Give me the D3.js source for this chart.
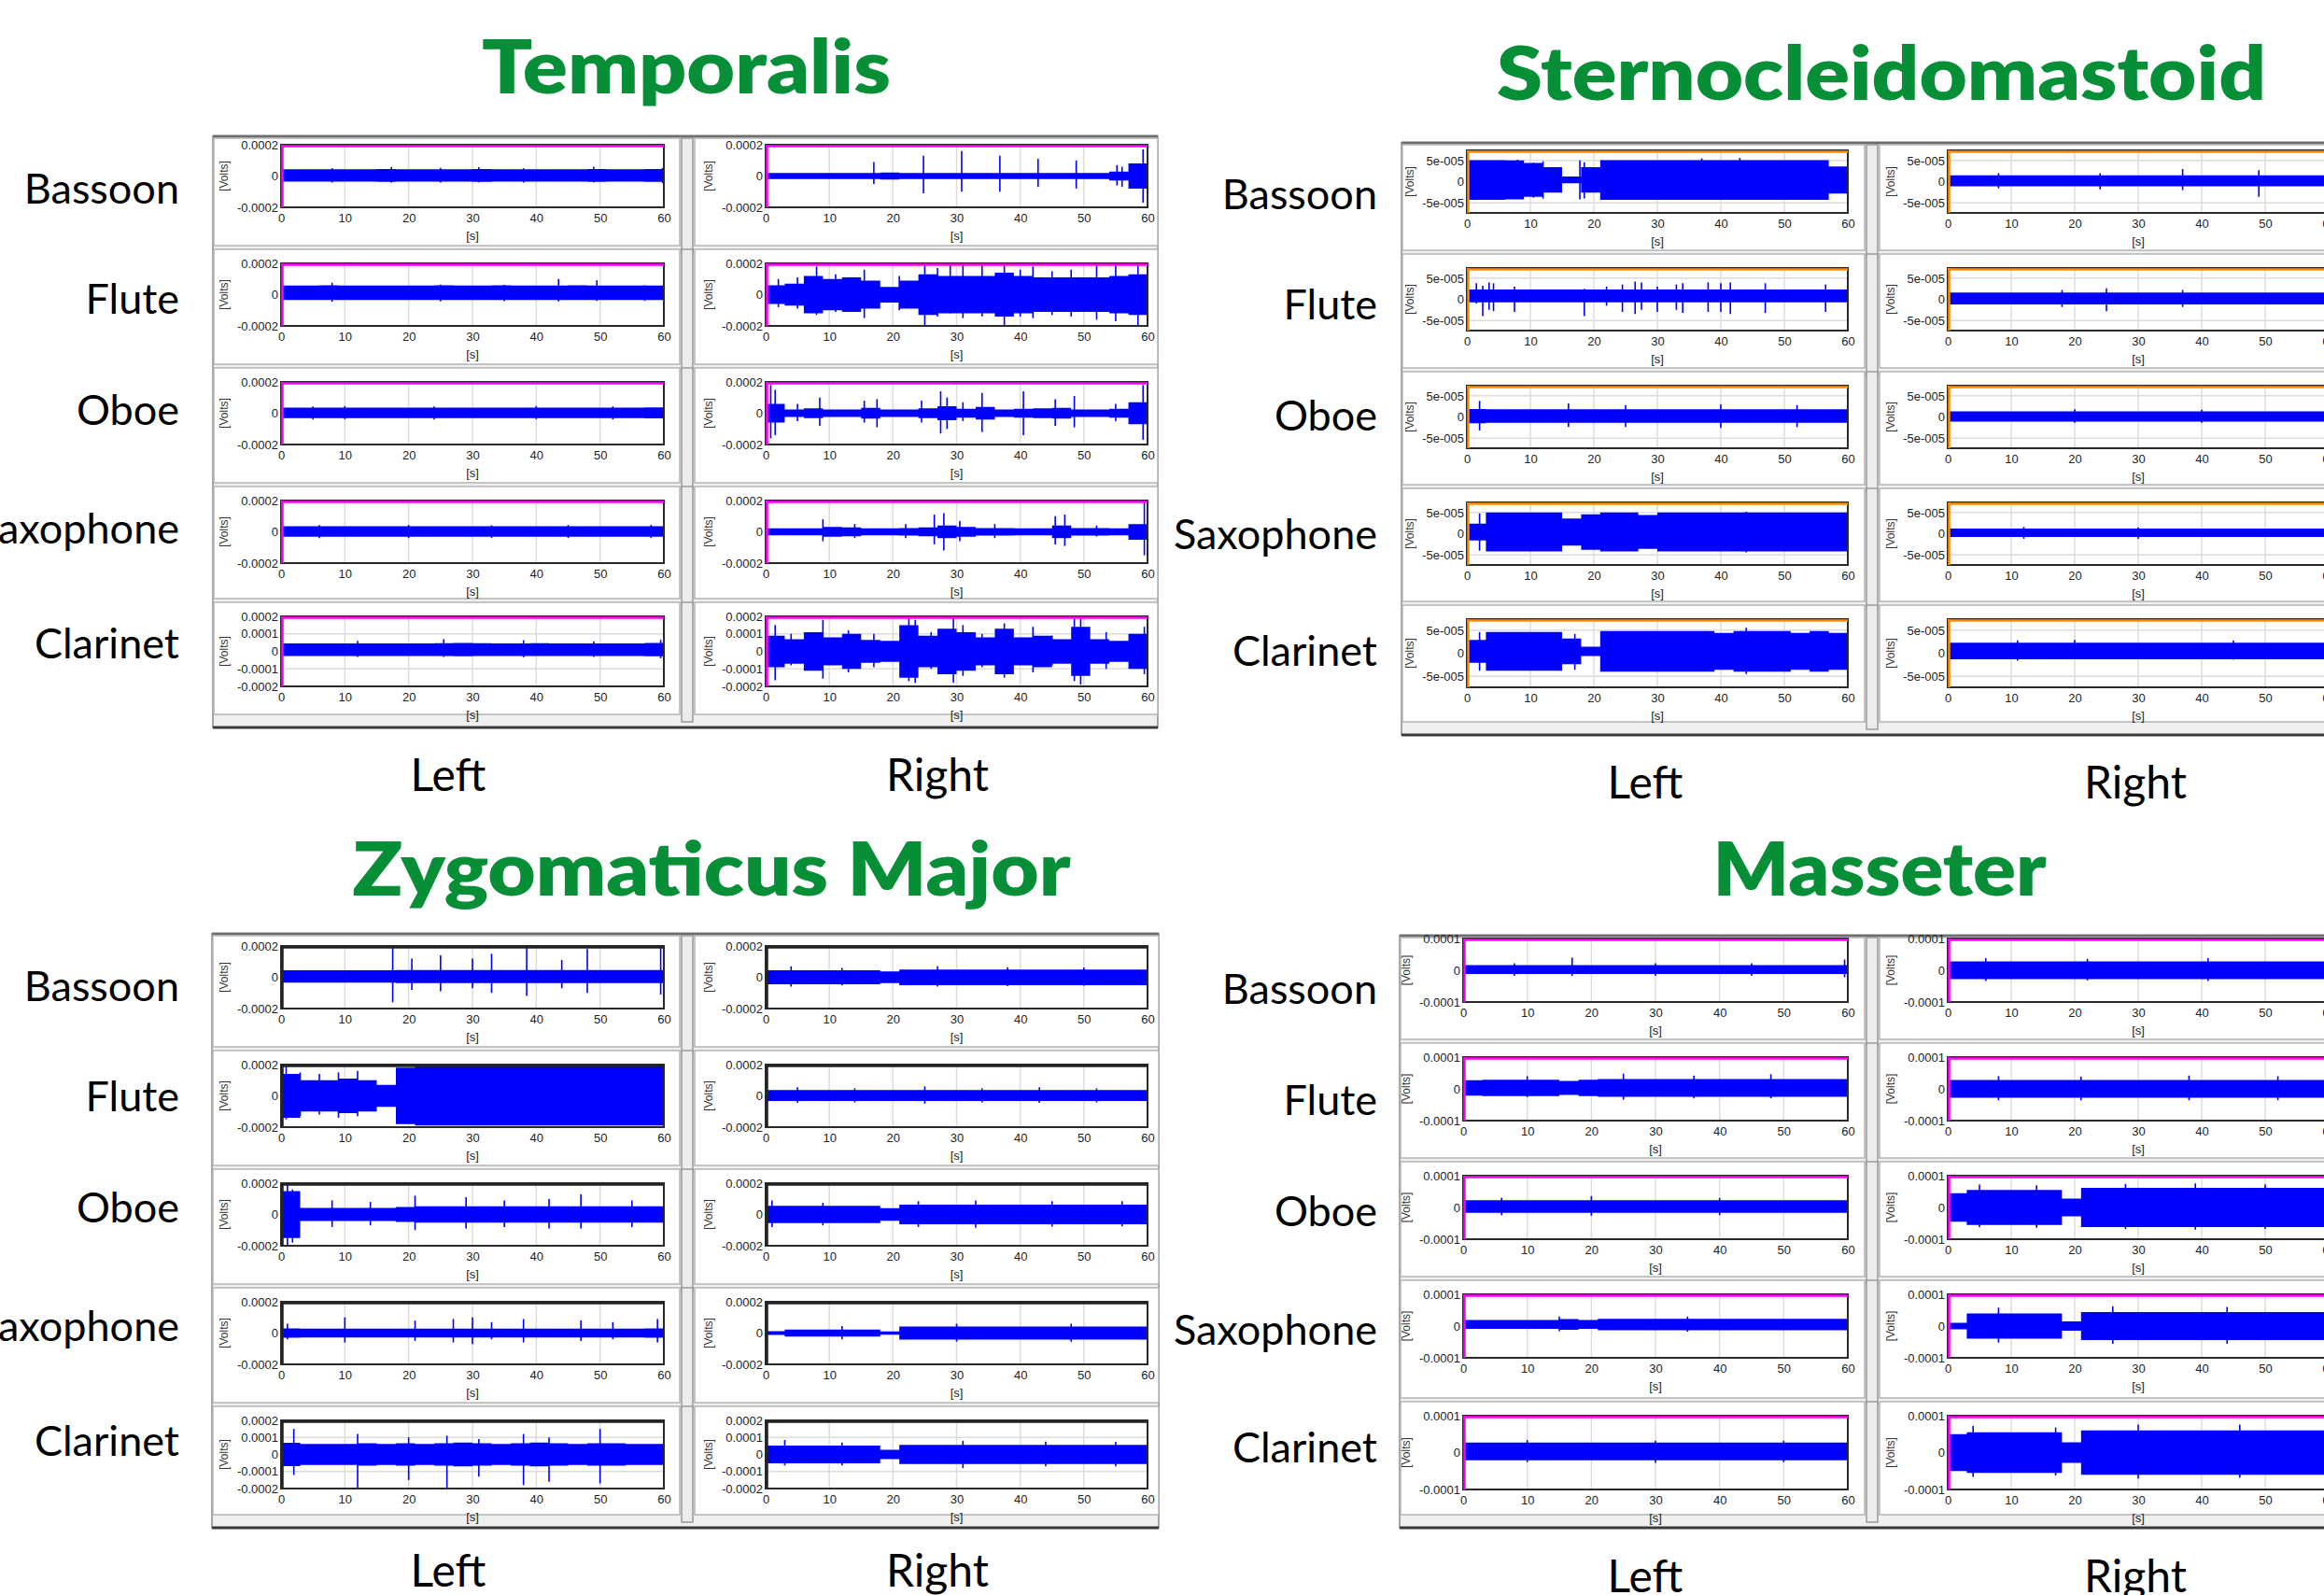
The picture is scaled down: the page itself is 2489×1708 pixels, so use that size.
<!DOCTYPE html>
<html>
<head>
<meta charset="utf-8">
<script src="https://cdn.jsdelivr.net/npm/d3@7"></script>
<style>
  body { margin: 0; background: #fff; }
</style>
</head>
<body>
<div id="chart"></div>
<script>
// ---- data (amplitudes in microvolts, one envelope value per 3 s bin, 0..60 s) ----
const instruments = ["Bassoon", "Flute", "Oboe", "Saxophone", "Clarinet"];
const sides = ["Left", "Right"];
const xTicks = [0, 10, 20, 30, 40, 50, 60];
const binSeconds = 3;

const ticks200 = [-0.0002, 0, 0.0002];
const ticks200fine = [-0.0002, -0.0001, 0, 0.0001, 0.0002];
const ticks50 = [-0.00005, 0, 0.00005];
const ticks100 = [-0.0001, 0, 0.0001];
const tickText = {"0.0002": "0.0002", "0.0001": "0.0001", "0": "0", "-0.0001": "-0.0001", "-0.0002": "-0.0002",
                  "0.00005": "5e-005", "-0.00005": "-5e-005"};

// Temporalis
const temporalisLeftEnv = [
  [40,40,40,40,40,41,40,40,40,40,41,40,40,40,40,40,41,40,40,41],
  [46,46,47,46,46,46,46,46,47,46,46,47,46,46,46,47,46,46,46,46],
  [34,34,34,34,34,34,34,34,34,34,34,34,34,34,34,34,34,34,34,35],
  [34,34,34,34,34,34,34,34,34,34,34,34,34,34,34,34,34,34,34,34],
  [36,36,36,36,36,36,36,36,37,38,37,36,36,37,36,36,36,36,36,38]
];
const temporalisLeftOffset = [4, 12, 2, 2, 10];
const temporalisLeftSpikes = [
  [[8,50,-42],[17.3,58,-42],[25,52,-42],[31,56,-40],[38,50,-42],[49,60,-40],[59.8,52,-46]],
  [[8,76,-46],[25,64,-44],[35,62,-42],[43.5,100,-44],[49.5,92,-40],[57,60,-40]],
  [[5,44,-40],[10,46,-38],[24,44,-40],[40,46,-38],[52,44,-40]],
  [[6,44,-40],[20,44,-40],[33,42,-40],[45,44,-40],[58,44,-40]],
  [[12,60,-32],[25.5,70,-32],[38,64,-34],[49,58,-32],[59.5,66,-40]]
];
const temporalisRightEnv = [
  [20,20,20,20,20,20,22,20,20,20,20,20,20,20,20,20,20,20,28,80],
  [60,70,120,100,110,90,50,90,130,120,120,120,140,120,110,110,110,110,120,130],
  [60,24,32,24,24,35,24,24,32,45,28,40,24,28,32,35,24,24,28,70],
  [22,22,22,32,28,22,22,24,28,40,32,24,24,22,22,40,24,24,22,50],
  [90,70,110,80,100,65,60,150,90,130,110,80,130,80,90,70,140,70,60,100]
];
const temporalisRightOffset = [0, 0, 0, 0, 0];
const temporalisRightSpikes = [
  [[17,90,-50],[24.8,130,-110],[30.8,160,-100],[36.8,130,-100],[42.8,110,-70],[48.8,100,-80],[55.2,70,-60],[56,60,-70],[59.3,170,-170]],
  [[2,100,-80],[5,110,-90],[8,180,-130],[11,130,-110],[15.5,160,-150],[21,120,-100],[25,200,-200],[27,170,-140],[29,200,-120],[31,200,-150],[34,190,-140],[37.5,200,-200],[40,160,-140],[42,180,-150],[45,150,-130],[48,160,-140],[52,190,-160],[55,190,-170],[58.5,190,-200]],
  [[0.8,180,-160],[1.5,150,-140],[5,60,-50],[8.5,100,-80],[15.5,80,-60],[17.5,90,-90],[24.5,80,-60],[27.5,140,-130],[28.5,100,-100],[31,70,-50],[34,130,-120],[40.5,140,-140],[45.5,90,-80],[48.5,110,-90],[55,60,-50],[59.3,180,-170]],
  [[9,80,-60],[14,50,-40],[22,50,-40],[26.5,110,-80],[28,120,-120],[30.5,70,-60],[36,50,-40],[45.5,100,-80],[47,110,-90],[52,40,-30],[59.5,200,-150]],
  [[1.5,150,-165],[4,100,-80],[9,180,-156],[13,120,-120],[17,100,-90],[22.5,190,-170],[23.5,180,-180],[26,110,-100],[29.5,200,-180],[31,150,-140],[34,100,-90],[37.5,160,-150],[42,140,-120],[45,90,-80],[48.5,200,-170],[49.5,200,-190],[53.5,110,-100],[59.5,140,-130]]
];

// Sternocleidomastoid
const sternoLeftEnv = [
  [47,47,46,40,30,8,30,47,47,47,47,47,47,47,47,47,47,47,47,32],
  [15,15,15,15,15,15,15,15,15,15,15,15,15,15,15,15,15,15,15,15],
  [17,16,16,16,16,16,16,16,16,16,16,16,16,16,16,16,16,16,16,16],
  [20,46,46,46,46,32,42,46,46,40,46,46,46,46,46,46,46,46,46,46],
  [25,42,42,42,42,28,10,44,44,44,44,44,44,40,44,44,44,40,44,40]
];
const sternoLeftOffset = [4, 8, 2, 4, 4];
const sternoLeftSpikes = [
  [[8,52,-40],[10.5,45,-38],[12,48,-40],[17.8,50,-42],[18.5,46,-40],[37,55,-40],[43,56,-42]],
  [[1.5,38,-10],[2.5,32,-40],[3.5,40,-25],[4.2,38,-28],[7.5,30,-30],[18.5,25,-40],[22,30,-15],[24.5,35,-30],[26.5,42,-35],[27.5,40,-25],[30,30,-30],[33,35,-25],[34,38,-32],[38,40,-30],[40,38,-30],[41.5,40,-35],[47,38,-32],[56.5,35,-30]],
  [[2,38,-32],[16,32,-24],[25,28,-24],[40,30,-26],[52,28,-24]],
  [[2,48,-40],[44,52,-44]],
  [[2,46,-38],[17,42,-36],[44,55,-45]]
];
const sternoRightEnv = [
  [13,13,13,13,13,13,13,13,13,13,13,13,13,13,13,13,13,13,13,13],
  [14,14,14,14,14,14,14,14,14,14,14,14,14,14,14,14,14,14,14,14],
  [12,12,12,12,12,12,12,12,12,12,12,12,12,12,12,12,12,12,12,12],
  [10,10,10,10,10,10,10,10,10,10,10,10,10,10,10,10,10,10,10,10],
  [18,18,18,18,18,18,18,18,18,18,18,18,18,18,18,18,18,18,18,18]
];
const sternoRightOffset = [2, 2, 1, 2, 5];
const sternoRightSpikes = [
  [[8,20,-16],[24,20,-18],[37,30,-20],[49,27,-36]],
  [[18,22,-18],[25,26,-28],[37,22,-18]],
  [[20,18,-14],[40,17,-14]],
  [[12,16,-12],[30,15,-12]],
  [[11,28,-16],[20,29,-12],[45,28,-14]]
];

// Zygomaticus Major
const zygoLeftEnv = [
  [40,40,40,40,40,40,42,42,42,42,42,42,42,42,42,42,42,42,42,42],
  [140,100,100,110,100,70,180,190,190,190,190,190,190,190,190,190,190,190,190,190],
  [150,42,42,42,42,42,48,52,52,52,52,52,52,52,52,52,52,52,52,52],
  [30,28,28,28,28,28,28,28,28,28,28,28,28,28,28,28,28,28,28,30],
  [68,62,62,62,66,62,66,62,66,70,66,62,66,70,66,62,66,66,62,62]
];
const zygoLeftOffset = [5, 0, 0, 0, 0];
const zygoLeftSpikes = [
  [[17.5,200,-160],[20.5,120,-80],[25,140,-90],[30,120,-70],[33,150,-100],[38.5,200,-120],[44,110,-70],[48,180,-100],[59.5,190,-110]],
  [[0.8,200,-150],[3,150,-130],[6,140,-120],[9,150,-140],[12,160,-130]],
  [[1,200,-200],[1.8,160,-180],[8,90,-80],[14,80,-70],[21,120,-100],[29,110,-90],[35,90,-80],[42,100,-90],[47,130,-90],[55,90,-80]],
  [[1,60,-40],[10,100,-60],[21,80,-50],[27,90,-60],[30,100,-70],[33,70,-40],[38,90,-60],[47,80,-50],[52,70,-40],[59,90,-60]],
  [[2,150,-120],[12,120,-200],[20,100,-150],[26,110,-200],[31,90,-130],[38,120,-180],[42,100,-160],[50,150,-170]]
];
const zygoRightEnv = [
  [45,45,45,45,45,45,38,50,50,50,50,50,50,50,50,50,50,50,50,50],
  [35,35,35,35,35,35,35,35,35,35,35,35,35,35,35,35,35,35,35,35],
  [55,55,55,55,55,55,40,62,62,62,62,62,62,62,62,62,62,62,62,62],
  [12,22,22,22,22,22,10,42,42,42,42,42,42,42,42,42,42,42,42,42],
  [52,52,52,52,52,52,28,56,56,56,56,56,56,56,56,56,56,56,56,56]
];
const zygoRightOffset = [0, 2, 0, 0, 0];
const zygoRightSpikes = [
  [[4,70,-60],[12,60,-52],[27,70,-60],[38,64,-56],[50,62,-54]],
  [[5,55,-45],[14,48,-42],[25,60,-50],[34,48,-42],[43,55,-45],[52,48,-42]],
  [[1,90,-80],[9,75,-70],[24,85,-80],[33,90,-85],[45,85,-78],[56,85,-76]],
  [[12,45,-40],[30,60,-55],[48,60,-55]],
  [[3,85,-65],[12,70,-65],[31,80,-80],[44,76,-70],[55,74,-70]]
];

// Masseter
const masseterLeftEnv = [
  [14,14,14,14,14,14,14,14,14,14,14,14,14,14,14,14,14,14,14,14],
  [24,26,26,26,26,22,26,28,28,28,28,28,28,28,28,28,28,28,28,28],
  [20,20,20,20,20,20,20,20,20,20,20,20,20,20,20,20,20,20,20,20],
  [14,14,14,14,14,17,14,18,18,18,18,18,18,18,18,18,18,18,18,18],
  [24,24,24,24,24,24,24,24,24,24,24,24,24,24,24,24,24,24,24,24]
];
const masseterLeftOffset = [2, 3, 3, 5, 3];
const masseterLeftSpikes = [
  [[8,22,-18],[17,40,-18],[30,22,-18],[45,22,-18],[59.5,34,-22]],
  [[10,40,-26],[25,48,-34],[36,42,-30],[48,46,-30]],
  [[6,30,-24],[20,36,-26],[40,30,-24]],
  [[15,30,-16],[35,30,-18]],
  [[10,34,-26],[30,32,-28],[50,32,-26]]
];
const masseterRightEnv = [
  [28,28,28,28,28,28,28,28,28,28,28,28,28,28,28,28,28,28,28,28],
  [28,28,28,28,28,28,28,28,28,28,28,28,28,28,28,28,28,28,28,28],
  [45,55,55,55,55,55,28,62,62,62,62,62,62,62,62,62,62,62,62,62],
  [10,40,40,40,40,40,15,44,44,44,44,44,44,44,44,44,44,44,44,44],
  [50,55,55,55,55,55,28,60,60,60,60,60,60,60,60,60,60,60,60,60]
];
const masseterRightOffset = [0, 0, 0, 0, 0];
const masseterRightSpikes = [
  [[6,38,-34],[22,36,-32],[41,38,-34]],
  [[8,40,-36],[21,38,-36],[38,42,-36],[52,40,-36]],
  [[5,72,-62],[14,70,-64],[28,74,-68],[39,76,-70],[50,72,-68]],
  [[8,58,-52],[26,62,-56],[44,60,-56]],
  [[4,72,-66],[17,68,-62],[30,76,-70],[46,76,-68]]
];

// ---- layout ----
const W = 2489, H = 1708;
const GREEN = "#078f38";
const BLUE = "#0000ff";
const TICK_FONT = "'Liberation Sans', Arial, sans-serif";
const LABEL_FONT = "Lato, 'Open Sans', sans-serif";

const panels = [
  {name: "Temporalis", titleX: 735, titleY: 100, titleW: 438,
   frame: [228, 146, 1240, 779], plotL: [301, 711], plotR: [820, 1229], sep: [728, 744],
   tops: [155, 282, 409, 536, 660], heights: [67, 67, 67, 67, 75],
   domain: 0.0002, ticks: [ticks200, ticks200, ticks200, ticks200, ticks200fine], edge: "#ff00ff",
   labelX: 192, labelY: [218, 336, 455, 582, 705], sideY: 847, sideX: [480, 1004],
   env: [temporalisLeftEnv, temporalisRightEnv], off: [temporalisLeftOffset, temporalisRightOffset],
   spikes: [temporalisLeftSpikes, temporalisRightSpikes]},
  {name: "Sternocleidomastoid", titleX: 2015, titleY: 107, titleW: 824,
   frame: [1501, 153, 2520, 787], plotL: [1571, 1979], plotR: [2086, 2494], sep: [1997, 2013],
   tops: [161, 287, 413, 538, 663], heights: [67, 67, 67, 67, 73],
   domain: 0.000074, ticks: [ticks50, ticks50, ticks50, ticks50, ticks50], edge: "#ff8c00",
   labelX: 1475, labelY: [224, 342, 461, 588, 713], sideY: 855, sideX: [1762, 2287],
   env: [sternoLeftEnv, sternoRightEnv], off: [sternoLeftOffset, sternoRightOffset],
   spikes: [sternoLeftSpikes, sternoRightSpikes]},
  {name: "Zygomaticus Major", titleX: 762, titleY: 959, titleW: 769,
   frame: [227, 1000, 1241, 1636], plotL: [301, 711], plotR: [820, 1229], sep: [728, 744],
   tops: [1013, 1140, 1267, 1394, 1521], heights: [67, 67, 67, 67, 73],
   domain: 0.0002, ticks: [ticks200, ticks200, ticks200, ticks200, ticks200fine], edge: "#222",
   labelX: 192, labelY: [1072, 1190, 1309, 1436, 1559], sideY: 1699, sideX: [480, 1004],
   env: [zygoLeftEnv, zygoRightEnv], off: [zygoLeftOffset, zygoRightOffset],
   spikes: [zygoLeftSpikes, zygoRightSpikes]},
  {name: "Masseter", titleX: 2013, titleY: 959, titleW: 357,
   frame: [1499, 1002, 2520, 1636], plotL: [1567, 1979], plotR: [2086, 2494], sep: [1997, 2013],
   tops: [1005, 1132, 1259, 1386, 1516], heights: [68, 68, 68, 68, 79],
   domain: 0.0001, ticks: [ticks100, ticks100, ticks100, ticks100, ticks100], edge: "#ff00ff",
   labelX: 1475, labelY: [1075, 1194, 1313, 1440, 1566], sideY: 1705, sideX: [1762, 2287],
   env: [masseterLeftEnv, masseterRightEnv], off: [masseterLeftOffset, masseterRightOffset],
   spikes: [masseterLeftSpikes, masseterRightSpikes]}
];

const svg = d3.select("#chart").append("svg")
  .attr("width", W).attr("height", H)
  .style("display", "block");

const defs = svg.append("defs");
let clipId = 0;

function drawPlot(g, p, side, r) {
  const [px0, px1] = side === 0 ? p.plotL : p.plotR;
  const top = p.tops[r], h = p.heights[r];
  const x = d3.scaleLinear().domain([0, 60]).range([px0, px1]);
  const y = d3.scaleLinear().domain([-p.domain, p.domain]).range([top + h, top]);

  g.append("rect").attr("x", px0).attr("y", top).attr("width", px1 - px0).attr("height", h).attr("fill", "#fff");

  // grid
  g.append("g").selectAll("line").data(xTicks.slice(1, -1)).join("line")
    .attr("x1", d => x(d)).attr("x2", d => x(d)).attr("y1", top).attr("y2", top + h)
    .attr("stroke", "#dcdcdc").attr("stroke-width", 1.5);
  g.append("g").selectAll("line").data(p.ticks[r]).join("line")
    .attr("x1", px0).attr("x2", px1).attr("y1", d => y(d)).attr("y2", d => y(d))
    .attr("stroke", "#dcdcdc").attr("stroke-width", 1.5);

  // signal envelope + spikes
  const id = "clip" + (clipId++);
  defs.append("clipPath").attr("id", id).append("rect")
    .attr("x", px0).attr("y", top).attr("width", px1 - px0).attr("height", h);
  const env = p.env[side][r], off = p.off[side][r];
  const pts = env.map((v, i) => ({t: i * binSeconds + binSeconds / 2, v}));
  pts.unshift({t: 0.3, v: env[0]});
  pts.push({t: 60, v: env[env.length - 1]});
  const area = d3.area()
    .x(d => x(d.t))
    .y0(d => y((off - d.v) * 1e-6))
    .y1(d => y((off + d.v) * 1e-6))
    .curve(d3.curveStep);
  const sig = g.append("g").attr("clip-path", `url(#${id})`);
  sig.append("path").datum(pts).attr("d", area).attr("fill", BLUE);
  sig.selectAll("line").data(p.spikes[side][r]).join("line")
    .attr("x1", d => x(d[0])).attr("x2", d => x(d[0]))
    .attr("y1", d => y(d[1] * 1e-6)).attr("y2", d => y(d[2] * 1e-6))
    .attr("stroke", BLUE).attr("stroke-width", 1.6);

  // border
  g.append("rect").attr("x", px0).attr("y", top).attr("width", px1 - px0).attr("height", h)
    .attr("fill", "none").attr("stroke", "#2a2a2a").attr("stroke-width", 2);
  g.append("line").attr("x1", px0).attr("x2", px1).attr("y1", top + 1.5).attr("y2", top + 1.5)
    .attr("stroke", p.edge).attr("stroke-width", 2.5);
  g.append("line").attr("x1", px0 + 1.5).attr("x2", px0 + 1.5).attr("y1", top).attr("y2", top + h)
    .attr("stroke", p.edge).attr("stroke-width", 2.5);

  // axes
  const ax = g.append("g").attr("transform", `translate(0,${top + h + 6})`)
    .call(d3.axisBottom(x).tickValues(xTicks).tickSize(0).tickPadding(0).tickFormat(d3.format("d")));
  ax.select(".domain").remove();
  ax.selectAll("text").attr("font-family", TICK_FONT).attr("font-size", 13).attr("fill", "#222").attr("dy", "0.8em");
  const ay = g.append("g").attr("transform", `translate(${px0 - 3},0)`)
    .call(d3.axisLeft(y).tickValues(p.ticks[r]).tickSize(0).tickPadding(0).tickFormat(d => tickText[String(+d.toFixed(6))]));
  ay.select(".domain").remove();
  ay.selectAll("text").attr("font-family", TICK_FONT).attr("font-size", 13).attr("fill", "#222");

  g.append("text").attr("x", (px0 + px1) / 2).attr("y", top + h + 35)
    .attr("text-anchor", "middle").attr("font-family", TICK_FONT).attr("font-size", 13).attr("fill", "#222").text("[s]");
  g.append("text").attr("transform", `translate(${px0 - 57},${top + h / 2}) rotate(-90)`)
    .attr("text-anchor", "middle").attr("font-family", TICK_FONT).attr("font-size", 12).attr("fill", "#333").text("[Volts]");
}

function drawMuscle(p) {
  const g = svg.append("g");
  g.append("text").attr("x", p.titleX).attr("y", p.titleY).attr("text-anchor", "middle")
    .attr("font-family", LABEL_FONT).attr("font-weight", 800).attr("font-size", 80)
    .attr("fill", GREEN).attr("textLength", p.titleW).attr("lengthAdjust", "spacingAndGlyphs")
    .text(p.name);

  const [fx0, fy0, fx1, fy1] = p.frame;
  g.append("rect").attr("x", fx0).attr("y", fy0).attr("width", fx1 - fx0).attr("height", fy1 - fy0)
    .attr("fill", "#efefef").attr("stroke", "#8a8a8a").attr("stroke-width", 1.5);
  g.append("line").attr("x1", fx0).attr("x2", fx1).attr("y1", fy0).attr("y2", fy0).attr("stroke", "#6e6e6e").attr("stroke-width", 3);
  g.append("line").attr("x1", fx0).attr("x2", fx1).attr("y1", fy1).attr("y2", fy1).attr("stroke", "#3a3a3a").attr("stroke-width", 3);

  instruments.forEach((name, r) => {
    const cTop = r === 0 ? fy0 + 2 : p.tops[r] - 15;
    const cBot = r === 4 ? fy1 - 14 : p.tops[r + 1] - 19;
    [[fx0 + 1, p.sep[0]], [p.sep[1], fx1]].forEach(([a, b]) => {
      g.append("rect").attr("x", a).attr("y", cTop).attr("width", b - a).attr("height", cBot - cTop)
        .attr("fill", "#fff").attr("stroke", "#b4b4b4").attr("stroke-width", 1.5);
    });
    g.append("rect").attr("x", p.sep[0] + 2).attr("y", cTop).attr("width", p.sep[1] - p.sep[0] - 4).attr("height", cBot - cTop + 8)
      .attr("fill", "#ececec").attr("stroke", "#9a9a9a").attr("stroke-width", 1.5);
    sides.forEach((s, side) => drawPlot(g, p, side, r));

    g.append("text").attr("x", p.labelX).attr("y", p.labelY[r])
      .attr("text-anchor", "end").attr("font-family", LABEL_FONT).attr("font-size", 45).attr("fill", "#000")
      .text(name);
  });

  sides.forEach((s, i) => {
    g.append("text").attr("x", p.sideX[i]).attr("y", p.sideY).attr("text-anchor", "middle")
      .attr("font-family", LABEL_FONT).attr("font-size", 48).attr("fill", "#000").text(s);
  });
}

panels.forEach(drawMuscle);
</script>
</body>
</html>
